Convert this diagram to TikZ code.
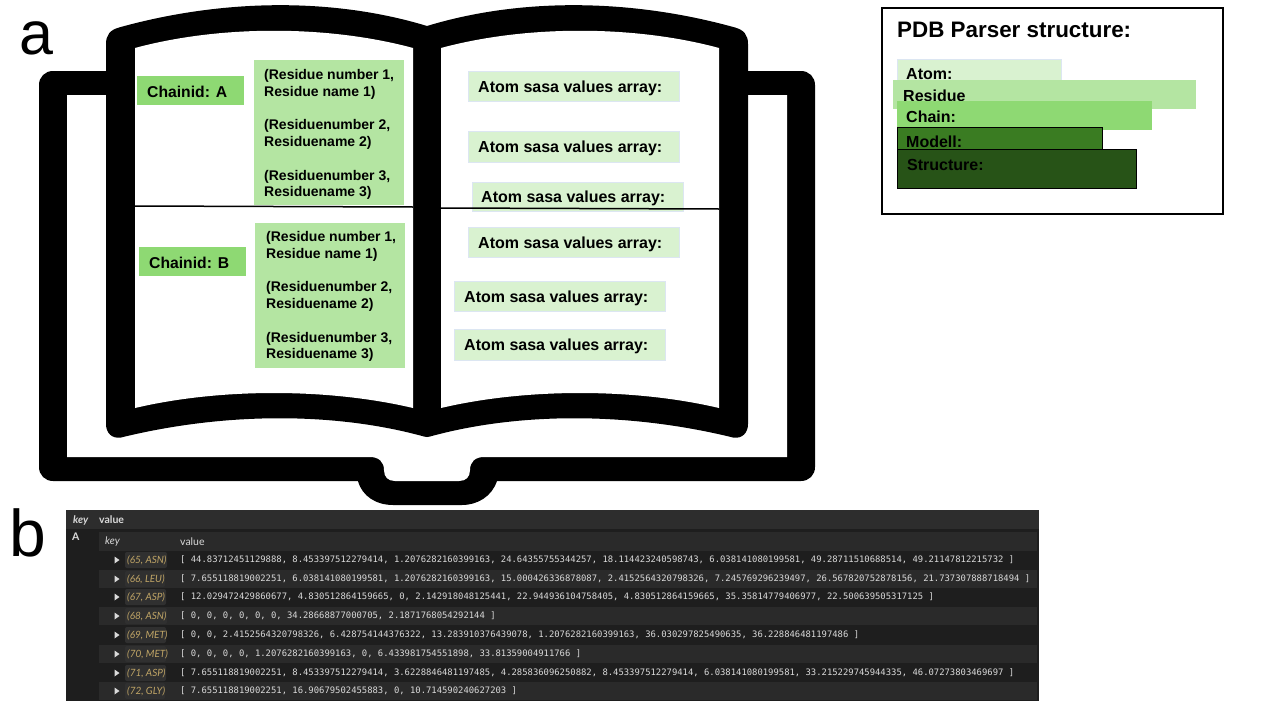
\documentclass[tikz,border=0pt]{standalone}
\usepackage{fontspec}
\setmainfont{Liberation Sans}
\setmonofont{DejaVu Sans Mono}
\newfontfamily\latofont{Lato}
\definecolor{gA}{HTML}{D9F2D0}
\definecolor{gB}{HTML}{B4E5A2}
\definecolor{gC}{HTML}{8ED973}
\definecolor{gD}{HTML}{3A7C22}
\definecolor{gE}{HTML}{275317}
\definecolor{gEdge}{HTML}{DCE6F2}
\definecolor{pBody}{HTML}{1E1E1E}
\definecolor{pHead}{HTML}{2D2D2D}
\definecolor{pRow}{HTML}{2A2A2A}
\definecolor{pTag}{HTML}{303030}
\definecolor{pGold}{HTML}{C0A566}
\definecolor{pText}{HTML}{DADADA}
\tikzset{
  txt/.style={anchor=west,inner sep=0pt,font=\bfseries\fontsize{15.7}{18}\selectfont},
  small/.style={anchor=north west,inner sep=0pt,align=left,font=\bfseries\fontsize{14}{16.7}\selectfont},
  atom/.style={anchor=west,inner sep=0pt,font=\bfseries\fontsize{16}{18}\selectfont},
  atombox/.style={fill=gA,draw=gEdge,line width=0.5pt},
  layer/.style={anchor=west,inner sep=0pt,font=\bfseries\fontsize{16}{18}\selectfont},
  big/.style={anchor=base west,inner sep=0pt,font=\fontsize{66}{66}\selectfont},
  mono/.style={anchor=west,inner sep=0pt,text=pText,font=\ttfamily\fontsize{8.88}{11}\selectfont},
  tag/.style={anchor=west,inner sep=0pt,text=pGold,font=\latofont\itshape\fontsize{10}{12}\selectfont},
  phead/.style={anchor=west,inner sep=0pt,text=pText,font=\latofont\fontsize{10.5}{12}\selectfont},
}
\begin{document}
\begin{tikzpicture}[x=1pt,y=-1pt]
\useasboundingbox (0,0) rectangle (1280,720);
% cover
\fill[black] (53,71) -- (801,71) .. controls (809,71) and (815,77) .. (815,85) -- (815,467)
  .. controls (815,475) and (809,481) .. (801,481) -- (497,481)
  .. controls (492,496) and (478,505) .. (462,505) -- (393,505)
  .. controls (376,505) and (362,496) .. (358,481) -- (53,481)
  .. controls (45,481) and (39,475) .. (39,467) -- (39,85) .. controls (39,77) and (45,71) .. (53,71) -- cycle;
\fill[white] (67,95) -- (787,95) -- (787,457) -- (484,457)
  .. controls (475,457) and (470,462) .. (470,470) .. controls (470,477) and (466,481) .. (459,481)
  -- (395,481) .. controls (388,481) and (384,477) .. (384,470)
  .. controls (384,462) and (379,457) .. (370,457) -- (67,457) -- cycle;
% pages
\fill[black] (427,26) .. controls (519,-2) and (629,-2) .. (735,27.5)
  .. controls (744,30) and (748,35) .. (748,44) -- (748,424)
  .. controls (748,433) and (742,439) .. (733,437.5)
  .. controls (629,412) and (519,412) .. (430,436.5) -- (427,437) -- (424,436.5)
  .. controls (335,412) and (225,412) .. (121,437.5)
  .. controls (112,439) and (106,433) .. (106,424) -- (106,44)
  .. controls (106,35) and (110,30) .. (119,27.5)
  .. controls (225,-2) and (335,-2) .. (427,26) -- cycle;
\fill[white] (135,48) .. controls (220,25) and (328,25) .. (413,48) -- (413,408)
  .. controls (328,388) and (220,388) .. (135,408) -- cycle;
\fill[white] (441,48) .. controls (526,25) and (634,25) .. (719,48) -- (719,408)
  .. controls (634,388) and (526,388) .. (441,408) -- cycle;
% labels
\node[big,font=\fontsize{61}{61}\selectfont] (la) at (19.5,54.5) {a};
\node[big] (lb) at (9,556.5) {b};
% left column
\fill[gC] (137,76) rectangle (244,105);
\node[txt] (chA) at (147,91.5) {Chainid: A};
\fill[gB] (254,60) rectangle (404,205);
\node[small] (resA) at (264,69.5) {(Residue number 1,\\Residue name 1)\\[16.7pt](Residuenumber 2,\\Residuename 2)\\[16.7pt](Residuenumber 3,\\Residuename 3)};
\fill[gC] (139,247) rectangle (246,276);
\node[txt] (chB) at (149,262.5) {Chainid: B};
\fill[gB] (255,223) rectangle (405,368);
\node[small] (resB) at (266,231.5) {(Residue number 1,\\Residue name 1)\\[16.7pt](Residuenumber 2,\\Residuename 2)\\[16.7pt](Residuenumber 3,\\Residuename 3)};
% atom boxes
\filldraw[atombox] (468,71) rectangle (679,101);
\node[atom] (a1) at (478,88) {Atom sasa values array:};
\filldraw[atombox] (468,131) rectangle (679,162);
\node[atom] (a2) at (478,148) {Atom sasa values array:};
\filldraw[atombox] (472,182) rectangle (683,211);
\node[atom] (a3) at (481,198) {Atom sasa values array:};
\filldraw[atombox] (468,227) rectangle (679,257);
\node[atom] (a4) at (478,244) {Atom sasa values array:};
\filldraw[atombox] (454,281) rectangle (665,311);
\node[atom] (a5) at (464,298) {Atom sasa values array:};
\filldraw[atombox] (454,329) rectangle (665,360);
\node[atom] (a6) at (464,346) {Atom sasa values array:};
% dividers
\draw[line width=1.5pt] (135,206) -- (413,207);
\draw[line width=1.5pt] (441,208) -- (719,209);
% parser box
\draw[line width=2pt] (882,8) rectangle (1223,214);
\node[anchor=west,inner sep=0pt,font=\bfseries\fontsize{22.4}{24}\selectfont] (ptitle) at (897,30) {PDB Parser structure:};
\filldraw[atombox] (897,59) rectangle (1061,82);
\node[layer] (l1) at (906,74) {Atom:};
\fill[gB] (893,80) rectangle (1196,109);
\node[layer] (l2) at (903,96) {Residue};
\fill[gC] (897,101) rectangle (1152,130);
\node[layer] (l3) at (906,117) {Chain:};
\filldraw[fill=gD,draw=black,line width=0.75pt] (897,127) rectangle (1102,151);
\node[layer] (l4) at (906,142) {Modell:};
\filldraw[fill=gE,draw=black,line width=0.75pt] (897,149) rectangle (1136,188);
\node[layer] (l5) at (907,165) {Structure:};
% panel b
\fill[pBody] (66,510) rectangle (1039,701);
\fill[pHead] (66,510) rectangle (1039,529);
\fill[pRow] (99,532) rectangle (1037,551);
\node[anchor=west,inner sep=0pt,text=pText,font=\latofont\bfseries\itshape\fontsize{10.5}{12}\selectfont] (hk) at (73,520) {key};
\node[anchor=west,inner sep=0pt,text=pText,font=\latofont\bfseries\fontsize{10.5}{12}\selectfont] (hv) at (99,520) {value};
\node[anchor=west,inner sep=0pt,text=pText,font=\latofont\bfseries\fontsize{10.5}{12}\selectfont] (hA) at (72,537) {A};
\node[anchor=west,inner sep=0pt,text=pText,font=\latofont\itshape\fontsize{10.5}{12}\selectfont] (hk2) at (105,542) {key};
\node[phead] (hv2) at (180,542) {value};
\foreach \i/\yy/\tg/\w/\val in {
 1/560/{(65, ASN)}/167/{[ 44.83712451129888, 8.453397512279414, 1.2076282160399163, 24.64355755344257, 18.114423240598743, 6.038141080199581, 49.28711510688514, 49.21147812215732 ]},
 2/579/{(66, LEU)}/165/{[ 7.655118819002251, 6.038141080199581, 1.2076282160399163, 15.000426336878087, 2.4152564320798326, 7.245769296239497, 26.567820752878156, 21.737307888718494 ]},
 3/597/{(67, ASP)}/166/{[ 12.029472429860677, 4.830512864159665, 0, 2.142918048125441, 22.944936104758405, 4.830512864159665, 35.35814779406977, 22.500639505317125 ]},
 4/616/{(68, ASN)}/167/{[ 0, 0, 0, 0, 0, 0, 34.28668877000705, 2.1871768054292144 ]},
 5/635/{(69, MET)}/166/{[ 0, 0, 2.4152564320798326, 6.428754144376322, 13.283910376439078, 1.2076282160399163, 36.030297825490635, 36.228846481197486 ]},
 6/654/{(70, MET)}/166/{[ 0, 0, 0, 0, 1.2076282160399163, 0, 6.433981754551898, 33.81359004911766 ]},
 7/673/{(71, ASP)}/166/{[ 7.655118819002251, 8.453397512279414, 3.6228846481197485, 4.285836096250882, 8.453397512279414, 6.038141080199581, 33.215229745944335, 46.07273803469697 ]},
 8/691/{(72, GLY)}/165/{[ 7.655118819002251, 16.90679502455883, 0, 10.714590240627203 ]}} {
  \ifodd\i\else
    \fill[pRow] (99,\yy-9.5) rectangle (1037,\yy+9.2);
  \fi
  \fill[pTag,rounded corners=2pt] (125,\yy-8) rectangle (\w,\yy+8);
  \fill[pText] (114.5,\yy-3.5) -- (119.5,\yy) -- (114.5,\yy+3.5) -- cycle;
  \node[tag] (tag\i) at (127,\yy) {\tg};
  \node[mono] (val\i) at (180,\yy) {\val};
}
\end{tikzpicture}
\end{document}
